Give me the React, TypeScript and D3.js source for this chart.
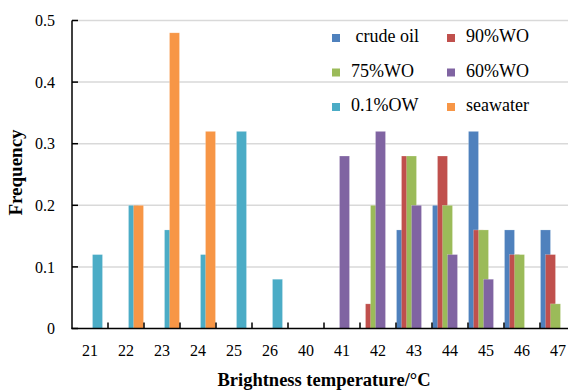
import React from 'react';
import * as d3 from 'd3';

const categories = ['21', '22', '23', '24', '25', '26', '40', '41', '42', '43', '44', '45', '46', '47'];
const seriesNames = [' crude oil', '90%WO', '75%WO', '60%WO', '0.1%OW', 'seawater'];
const seriesColors = ['#4F81BD', '#C0504D', '#9BBB59', '#8064A2', '#4BACC6', '#F79646'];

const crudeOil = [0, 0, 0, 0, 0, 0, 0, 0, 0, 0.16, 0.2, 0.32, 0.16, 0.16];
const wo90 = [0, 0, 0, 0, 0, 0, 0, 0, 0.04, 0.28, 0.28, 0.16, 0.12, 0.12];
const wo75 = [0, 0, 0, 0, 0, 0, 0, 0, 0.2, 0.28, 0.2, 0.16, 0.12, 0.04];
const wo60 = [0, 0, 0, 0, 0, 0, 0, 0.28, 0.32, 0.2, 0.12, 0.08, 0, 0];
const ow01 = [0.12, 0.2, 0.16, 0.12, 0.32, 0.08, 0, 0, 0, 0, 0, 0, 0, 0];
const seawater = [0, 0.2, 0.48, 0.32, 0, 0, 0, 0, 0, 0, 0, 0, 0, 0];

const seriesValues = [crudeOil, wo90, wo75, wo60, ow01, seawater];
const yTicks = [0, 0.1, 0.2, 0.3, 0.4, 0.5];

const W = 568;
const H = 390;
const left = 72;
const top = 20.5;
const bottom = 328.5;
const font = '"Liberation Serif", "Times New Roman", serif';

const App = () => {
  const x = d3.scaleBand().domain(categories).range([left, left + categories.length * 36]).padding(0);
  const y = d3.scaleLinear().domain([0, 0.5]).range([bottom, top]);

  // excel style clustered columns: 50% overlap, 10% gap
  const bw = x.bandwidth();
  const barW = bw / 3.6;
  const step = barW / 2;
  const pad = barW * 0.05;

  const legendCols = [332, 447];
  const legendRows = [42, 76.5, 111];

  return (
    <svg width={W} height={H} style={{ position: 'absolute', left: 0, top: 0, background: '#fff' }}>
      {yTicks.filter((t) => t > 0).map((t) => (
        <line key={'g' + t} x1={left} x2={W} y1={y(t)} y2={y(t)} stroke="#D9D9D9" strokeWidth={1.5} />
      ))}

      {seriesValues.map((vals, si) => (
        <g key={'s' + si}>
          {vals.map((v, ci) =>
            v > 0 ? (
              <rect
                key={ci}
                x={(x(categories[ci]) as number) + pad + si * step}
                y={y(v)}
                width={barW}
                height={y(0) - y(v)}
                fill={seriesColors[si]}
                stroke="rgba(255,255,255,0.35)"
                strokeWidth={0.6}
              />
            ) : null
          )}
        </g>
      ))}

      <line x1={left} x2={left} y1={top} y2={bottom} stroke="#000" strokeWidth={1.5} />
      <line x1={left - 0.75} x2={W} y1={bottom} y2={bottom} stroke="#000" strokeWidth={1.5} />
      {yTicks.map((t) => (
        <line key={'yt' + t} x1={left} x2={left + 6} y1={y(t)} y2={y(t)} stroke="#000" strokeWidth={1.5} />
      ))}
      {categories.map((c, i) =>
        i > 0 ? (
          <line key={'xt' + c} x1={x(c)} x2={x(c)} y1={bottom - 6} y2={bottom} stroke="#000" strokeWidth={1.5} />
        ) : null
      )}

      {yTicks.map((t) => (
        <text key={'yl' + t} x={55} y={y(t)} dy="0.35em" textAnchor="end" fontFamily={font} fontSize={16} fill="#000">
          {t === 0 ? '0' : d3.format('.1f')(t)}
        </text>
      ))}
      {categories.map((c) => (
        <text key={'xl' + c} x={(x(c) as number) + bw / 2} y={356} textAnchor="middle" fontFamily={font} fontSize={16} fill="#000">
          {c}
        </text>
      ))}

      <text
        transform={`translate(22,172.5) rotate(-90)`}
        textAnchor="middle"
        fontFamily={font}
        fontSize={19}
        fontWeight="bold"
        fill="#000"
      >
        Frequency
      </text>
      <text x={324} y={386} textAnchor="middle" fontFamily={font} fontSize={18.5} fontWeight="bold" fill="#000">
        Brightness temperature/°C
      </text>

      {seriesNames.map((name, i) => {
        const lx = legendCols[i % 2];
        const ly = legendRows[Math.floor(i / 2)];
        return (
          <g key={'lg' + i}>
            <rect x={lx} y={ly - 8} width={8} height={8} fill={seriesColors[i]} />
            <text x={lx + 19} y={ly} fontFamily={font} fontSize={18} fill="#000" style={{ whiteSpace: 'pre' }}>
              {name}
            </text>
          </g>
        );
      })}
    </svg>
  );
};

export default App;
